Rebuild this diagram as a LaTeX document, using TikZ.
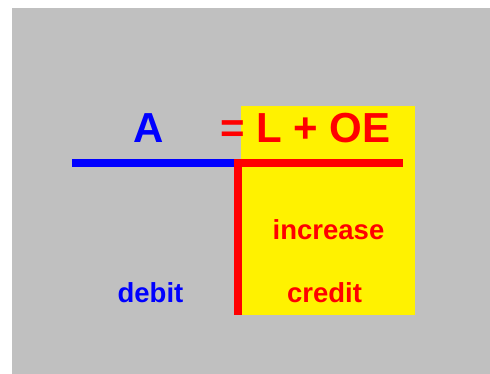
\documentclass[tikz,border=0pt]{standalone}
\usepackage{fontspec}
\setmainfont{Liberation Sans}
\usepackage{xcolor}
\usepackage{tikz}
\usetikzlibrary{positioning,calc}

\definecolor{slidegray}{RGB}{192,192,192}

\begin{document}
\begin{tikzpicture}[
    x=1pt, y=-1pt,
    big/.style={inner sep=0pt, anchor=base, font=\fontsize{42}{50}\selectfont\bfseries},
    side/.style={inner sep=0pt, anchor=base, font=\fontsize{27.5}{33}\selectfont\bfseries},
    tline/.style={line width=8pt}
]
    \useasboundingbox[fill=white] (0,0) rectangle (490,374);
    \fill[slidegray] (12,8) rectangle (490,374);
    \fill[yellow] (241,106) rectangle (415,315);

    \coordinate (Lft) at (72,163);
    \coordinate (Mid) at (234,163);
    \coordinate (Rgt) at (403,163);
    \coordinate (Top) at (238,163);
    \coordinate (Bot) at (238,315);

    \node[big, text=blue] (A) at (149,143) {A};
    \node[big, text=red, anchor=base west] (LOE) at (220,143) {= L + OE};

    \node[side, text=red]  (inc) at (328.5,240) {increase};
    \node[side, text=blue] (deb) at (150.5,302) {debit};
    \node[side, text=red]  (cre) at (324.5,302) {credit};

    \draw[tline, blue] (Lft) -- (Mid);
    \draw[tline, red] (Mid) -- (Rgt);
    \draw[tline, red] (Top) -- (Bot);
\end{tikzpicture}
\end{document}
